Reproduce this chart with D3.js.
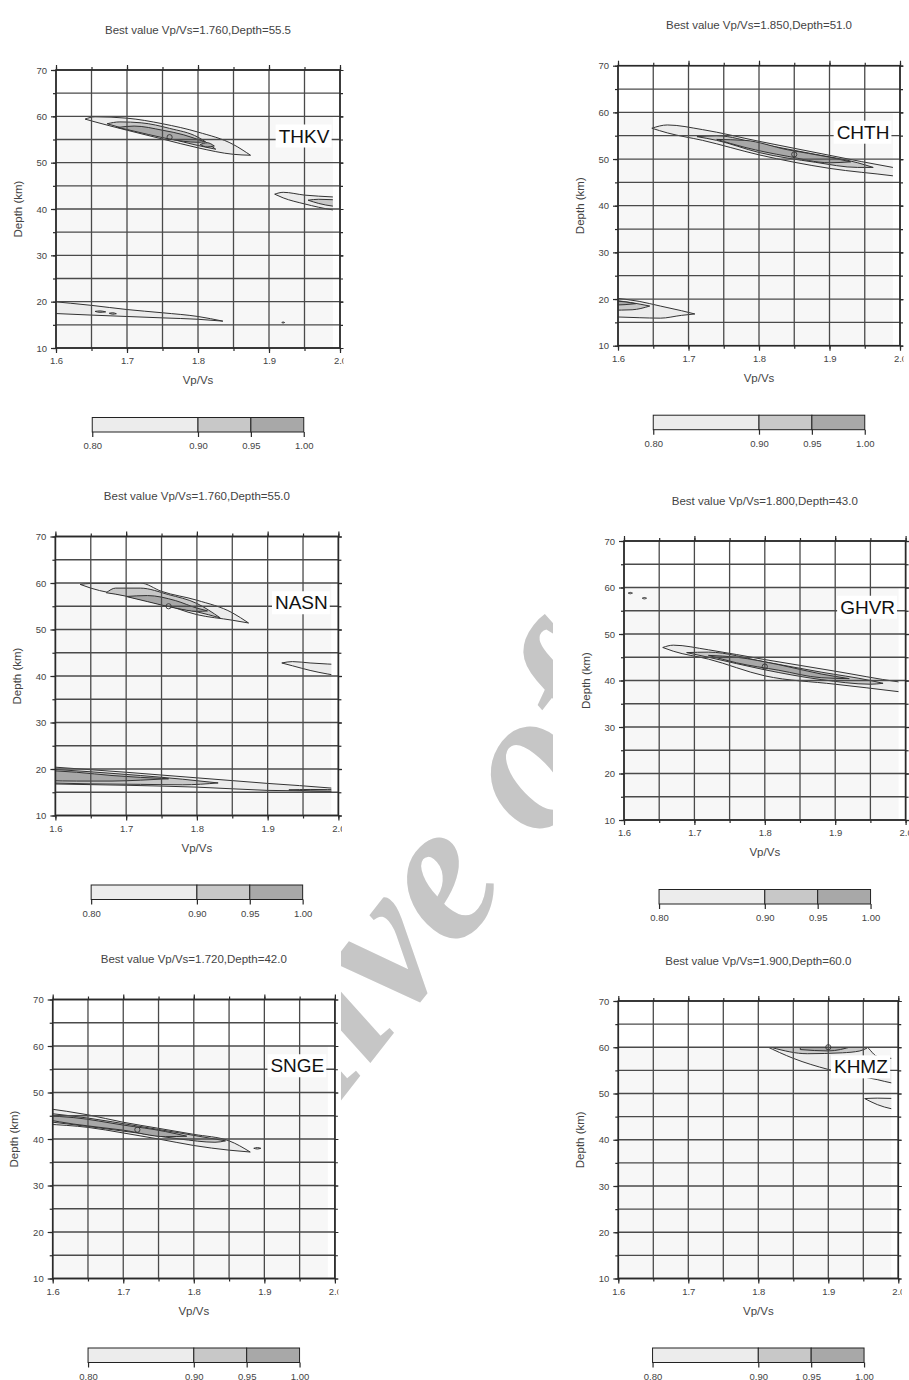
<!DOCTYPE html>
<html>
<head>
<meta charset="utf-8">
<script src="https://cdnjs.cloudflare.com/ajax/libs/d3/7.8.5/d3.min.js"></script>
<style>
  body { margin: 0; background: #fff; }
  text { font-family: "Liberation Sans", Arial, sans-serif; }
</style>
</head>
<body>
<div id="chart"></div>
<script>
// ---- data ----
var stations = ["THKV", "CHTH", "NASN", "GHVR", "SNGE", "KHMZ"];
var bestVpVs = [1.760, 1.850, 1.760, 1.800, 1.720, 1.900];
var bestDepth = [55.5, 51.0, 55.0, 43.0, 42.0, 60.0];
var xTicks = [1.6, 1.7, 1.8, 1.9, 2.0];
var yTicks = [10, 20, 30, 40, 50, 60, 70];
var levels = [0.80, 0.90, 0.95, 1.00];
var gridExtent = [1.6, 1.99, 10, 60];   // vp/vs min, max, depth min, max of the search grid

// contour bands: [vp/vs, upper depth, lower depth]
var thkv = [
  { level: 0.80, pts: [[1.641,59.4,59.4],[1.655,59.9,58.8],[1.70,59.6,57.0],[1.75,58.4,55.1],[1.80,56.6,53.2],[1.85,53.9,51.8],[1.874,51.6,51.6]] },
  { level: 0.90, pts: [[1.672,58.4,58.4],[1.69,58.8,57.6],[1.72,58.6,56.6],[1.76,57.4,55.2],[1.80,55.5,53.7],[1.825,52.9,52.9]] },
  { level: 0.95, pts: [[1.687,57.6,57.6],[1.71,57.9,56.8],[1.75,57.0,55.4],[1.78,56.0,54.6],[1.80,55.0,54.4],[1.81,54.5,54.5]] },
  { level: 0.95, pts: [[1.803,53.9,53.9],[1.813,54.3,53.4],[1.823,53.6,53.6]] },
  { level: 0.80, pts: [[1.908,43.2,43.2],[1.92,43.6,42.4],[1.95,43.0,41.1],[1.99,42.6,39.8],[2.01,42.4,39.4]] },
  { level: 0.90, pts: [[1.955,41.9,41.9],[1.97,42.1,41.2],[2.01,41.8,40.3]] },
  { level: 0.80, pts: [[1.59,20.1,17.5],[1.65,19.2,17.1],[1.70,18.3,16.8],[1.75,17.6,16.5],[1.80,16.8,16.2],[1.835,15.8,15.8]] },
  { level: 0.90, pts: [[1.655,17.9,17.9],[1.662,18.0,17.7],[1.67,17.8,17.8]] },
  { level: 0.90, pts: [[1.675,17.5,17.5],[1.68,17.6,17.3],[1.685,17.4,17.4]] },
  { level: 0.80, pts: [[1.918,15.5,15.5],[1.92,15.6,15.4],[1.922,15.5,15.5]] }
];
var chth = [
  { level: 0.80, pts: [[1.648,56.6,56.6],[1.67,57.3,55.6],[1.72,56.3,54.0],[1.80,53.8,50.9],[1.90,50.8,48.0],[1.99,48.2,46.4],[2.01,47.7,46.0]] },
  { level: 0.90, pts: [[1.712,54.8,54.8],[1.74,55.0,54.0],[1.80,53.3,51.4],[1.88,51.0,49.3],[1.94,49.2,48.2],[1.962,48.2,48.2]] },
  { level: 0.95, pts: [[1.74,54.2,54.2],[1.78,54.0,52.5],[1.84,52.0,50.6],[1.90,50.4,49.2],[1.93,49.4,49.4]] },
  { level: 0.80, pts: [[1.59,20.3,16.2],[1.63,19.5,16.0],[1.66,18.5,15.9],[1.69,17.5,16.5],[1.709,16.8,16.8]] },
  { level: 0.90, pts: [[1.59,19.8,17.6],[1.62,19.2,17.7],[1.645,18.5,18.5]] },
  { level: 0.95, pts: [[1.59,19.6,18.7],[1.61,19.4,18.8],[1.625,19.0,19.0]] }
];
var nasn = [
  { level: 0.80, pts: [[1.635,59.7,59.7],[1.65,59.9,58.9],[1.70,59.9,57.3],[1.72,60.0,56.8],[1.75,58.2,55.6],[1.80,56.3,53.2],[1.85,53.6,52.0],[1.873,51.4,51.4]] },
  { level: 0.90, pts: [[1.672,57.9,57.9],[1.685,58.9,57.6],[1.72,58.9,56.5],[1.76,57.5,55.0],[1.80,55.6,53.8],[1.833,52.5,52.5]] },
  { level: 0.95, pts: [[1.70,57.1,57.1],[1.73,57.3,56.0],[1.77,56.2,54.6],[1.80,54.6,53.9],[1.815,54.0,54.0]] },
  { level: 0.80, pts: [[1.92,42.8,42.8],[1.935,43.1,42.2],[1.96,42.8,41.2],[2.01,42.4,39.8]] },
  { level: 0.80, pts: [[1.59,20.5,16.8],[1.70,19.3,16.5],[1.80,18.1,16.1],[1.90,16.9,15.4],[1.99,15.9,15.2],[2.01,15.6,15.1]] },
  { level: 0.90, pts: [[1.59,20.0,17.0],[1.65,19.4,16.8],[1.72,18.6,16.7],[1.78,17.8,16.6],[1.83,17.0,17.0]] },
  { level: 0.90, pts: [[1.93,15.5,15.5],[1.96,15.6,15.3],[2.01,15.5,15.2]] },
  { level: 0.95, pts: [[1.59,19.7,17.5],[1.63,19.3,17.4],[1.68,18.6,17.4],[1.72,18.2,17.6],[1.76,17.9,17.9]] }
];
var ghvr = [
  { level: 0.80, pts: [[1.655,47.1,47.1],[1.67,47.6,46.3],[1.72,46.6,44.6],[1.80,44.5,41.0],[1.90,42.0,39.2],[1.99,39.7,37.6],[2.01,39.3,37.2]] },
  { level: 0.90, pts: [[1.689,46.0,46.0],[1.72,46.1,45.0],[1.80,44.0,42.3],[1.88,41.8,40.2],[1.95,40.0,39.2],[1.968,39.4,39.4]] },
  { level: 0.95, pts: [[1.72,45.4,45.4],[1.76,45.0,43.8],[1.82,43.4,42.2],[1.88,41.4,40.6],[1.92,40.4,40.4]] },
  { level: 0.80, pts: [[1.606,58.8,58.8],[1.609,58.95,58.65],[1.612,58.8,58.8]] },
  { level: 0.80, pts: [[1.626,57.7,57.7],[1.629,57.85,57.55],[1.632,57.7,57.7]] }
];
var snge = [
  { level: 0.80, pts: [[1.59,46.6,43.2],[1.65,45.2,42.5],[1.70,43.6,41.3],[1.75,42.3,40.0],[1.80,41.0,38.6],[1.85,39.6,37.6],[1.88,37.2,37.2]] },
  { level: 0.80, pts: [[1.885,38.0,38.0],[1.89,38.15,37.85],[1.895,38.0,38.0]] },
  { level: 0.90, pts: [[1.59,45.6,43.8],[1.65,44.5,42.7],[1.72,42.8,41.3],[1.78,41.3,40.0],[1.83,40.0,39.3],[1.845,39.6,39.6]] },
  { level: 0.95, pts: [[1.59,45.0,44.2],[1.63,44.6,43.2],[1.70,43.0,41.9],[1.76,41.6,40.5],[1.79,40.6,40.6]] }
];
var khmz = [
  { level: 0.80, pts: [[1.81,60.3,60.3],[1.85,60.5,57.6],[1.90,60.5,55.2],[1.95,60.5,53.6],[1.97,58.0,53.0],[1.99,57.6,52.3],[2.01,57.4,52.0]] },
  { level: 0.90, pts: [[1.82,60.5,59.9],[1.87,60.5,58.6],[1.92,60.5,58.8],[1.945,60.5,59.2],[1.955,59.8,59.8]] },
  { level: 0.95, pts: [[1.86,60.5,59.5],[1.90,60.5,59.2],[1.935,60.2,60.2]] },
  { level: 0.80, pts: [[1.952,48.9,48.9],[1.97,49.0,47.6],[2.01,48.8,46.2]] }
];
var contourSets = [thkv, chth, nasn, ghvr, snge, khmz];

// ---- layout: plot box of each panel in page pixels ----
var layout = [
  { x: 56,    y: 70,    w: 284,   h: 278 },
  { x: 618,   y: 65.7,  w: 282,   h: 280 },
  { x: 55.4,  y: 536.5, w: 283,   h: 279 },
  { x: 624,   y: 541,   w: 281.6, h: 279 },
  { x: 52.7,  y: 999.5, w: 282.2, h: 279 },
  { x: 618.3, y: 1001,  w: 280,   h: 277.5 }
];
var colLeft = [0, 553];

var fill = d3.scaleOrdinal().domain([0.80, 0.90, 0.95]).range(["#ececec", "#c8c8c8", "#a8a8a8"]);

var svg = d3.select("#chart").append("svg")
    .attr("width", 909)
    .attr("height", 1380);

// watermark behind the figure images
svg.append("text")
    .attr("transform", "translate(114,1391) rotate(-52)")
    .style("font-family", "'Liberation Serif', serif")
    .style("font-style", "italic")
    .style("font-weight", "bold")
    .style("font-size", "200px")
    .attr("fill", "#c6c6c6")
    .text("Archive of SID");

svg.append("rect").attr("x", 0).attr("y", 0).attr("width", 341).attr("height", 1380).attr("fill", "#fff");
svg.append("rect").attr("x", 553).attr("y", 0).attr("width", 356).attr("height", 1380).attr("fill", "#fff");

var defs = svg.append("defs");
var fmt1 = d3.format(".1f"), fmt3 = d3.format(".3f"), fmt2 = d3.format(".2f");

stations.forEach(function(name, i) {
    var pos = layout[i], W = pos.w, H = pos.h;
    var cx0 = colLeft[i % 2];

    // each figure image ends a few pixels right of its frame
    defs.append("clipPath").attr("id", "img" + i)
      .append("rect").attr("x", cx0).attr("y", 0)
        .attr("width", pos.x + W + 3.5 - cx0).attr("height", 1380);
    var outer = svg.append("g").attr("clip-path", "url(#img" + i + ")");
    var g = outer.append("g").attr("transform", "translate(" + pos.x + "," + pos.y + ")");

    var x = d3.scaleLinear().domain([1.6, 2.0]).range([0, W]);
    var y = d3.scaleLinear().domain([10, 70]).range([H, 0]);

    // search grid background
    var gx0 = x(gridExtent[0]), gx1 = x(gridExtent[1]), gy0 = y(gridExtent[3]), gy1 = y(gridExtent[2]);
    g.append("rect")
        .attr("x", gx0).attr("y", gy0)
        .attr("width", gx1 - gx0).attr("height", gy1 - gy0)
        .attr("fill", "#f7f7f7");

    defs.append("clipPath").attr("id", "data" + i)
      .append("rect")
        .attr("x", gx0).attr("y", gy0)
        .attr("width", gx1 - gx0).attr("height", gy1 - gy0);

    var area = d3.area()
        .x(function(d) { return x(d[0]); })
        .y0(function(d) { return y(d[2]); })
        .y1(function(d) { return y(d[1]); })
        .curve(d3.curveMonotoneX);

    var sets = contourSets[i].slice().sort(function(a, b) { return a.level - b.level; });
    g.append("g")
        .attr("clip-path", "url(#data" + i + ")")
        .selectAll("path")
        .data(sets)
        .enter().append("path")
            .attr("d", function(d) { return area(d.pts); })
            .attr("fill", function(d) { return fill(d.level); })
            .attr("stroke", "#333")
            .attr("stroke-width", 1);

    // grid every 0.05 and 5 km
    var gxs = d3.range(0, 9).map(function(k) { return 1.6 + k * 0.05; });
    var gys = d3.range(0, 13).map(function(k) { return 10 + k * 5; });
    g.append("g").selectAll("line").data(gxs).enter().append("line")
        .attr("x1", function(d) { return x(d); }).attr("x2", function(d) { return x(d); })
        .attr("y1", 0).attr("y2", H)
        .attr("stroke", "#4a4a4a").attr("stroke-width", 1.3);
    g.append("g").selectAll("line").data(gys).enter().append("line")
        .attr("y1", function(d) { return y(d); }).attr("y2", function(d) { return y(d); })
        .attr("x1", 0).attr("x2", W)
        .attr("stroke", "#4a4a4a").attr("stroke-width", 1.3);

    // best value
    g.append("circle")
        .attr("cx", x(bestVpVs[i])).attr("cy", y(bestDepth[i]))
        .attr("r", 2.6)
        .attr("fill", "none").attr("stroke", "#333").attr("stroke-width", 0.9);

    // frame
    g.append("rect").attr("width", W).attr("height", H)
        .attr("fill", "none").attr("stroke", "#2a2a2a").attr("stroke-width", 1.6);

    // axes: major ticks with labels, minor ticks
    function styleAxis(sel) {
        sel.select(".domain").remove();
        sel.selectAll("line").attr("stroke", "#2a2a2a").attr("stroke-width", 1.2);
        sel.selectAll("text").attr("fill", "#444").style("font-size", "9.5px")
            .style("font-family", "'Liberation Sans', Arial, sans-serif");
    }
    g.append("g").attr("transform", "translate(0," + H + ")")
        .call(d3.axisBottom(x).tickValues(xTicks).tickFormat(fmt1).tickSize(5).tickPadding(4.3))
        .call(styleAxis);
    g.append("g").attr("transform", "translate(0," + H + ")")
        .call(d3.axisBottom(x).tickValues(gxs).tickFormat("").tickSize(3))
        .call(styleAxis);
    g.append("g")
        .call(d3.axisTop(x).tickValues(xTicks).tickFormat("").tickSize(5))
        .call(styleAxis);
    g.append("g")
        .call(d3.axisTop(x).tickValues(gxs).tickFormat("").tickSize(3))
        .call(styleAxis);
    g.append("g")
        .call(d3.axisLeft(y).tickValues(yTicks).tickFormat(d3.format("d")).tickSize(5).tickPadding(4))
        .call(styleAxis);
    g.append("g")
        .call(d3.axisLeft(y).tickValues(gys).tickFormat("").tickSize(3))
        .call(styleAxis);
    g.append("g").attr("transform", "translate(" + W + ",0)")
        .call(d3.axisRight(y).tickValues(yTicks).tickFormat("").tickSize(5))
        .call(styleAxis);
    g.append("g").attr("transform", "translate(" + W + ",0)")
        .call(d3.axisRight(y).tickValues(gys).tickFormat("").tickSize(3))
        .call(styleAxis);

    // station label on a white box
    var lab = g.append("g");
    var txt = lab.append("text")
        .attr("x", x(1.985)).attr("y", y(55) + 3)
        .attr("text-anchor", "end")
        .style("font-size", "19px")
        .attr("fill", "#111")
        .text(name);
    var bb = txt.node().getBBox();
    lab.insert("rect", "text")
        .attr("x", bb.x - 3).attr("y", bb.y - 1)
        .attr("width", bb.width + 5).attr("height", bb.height + 2)
        .attr("fill", "#fff");

    // titles
    g.append("text")
        .attr("x", W / 2).attr("y", -36.5)
        .attr("text-anchor", "middle")
        .style("font-size", "11.5px")
        .attr("fill", "#444")
        .text("Best value Vp/Vs=" + fmt3(bestVpVs[i]) + ",Depth=" + fmt1(bestDepth[i]));
    g.append("text")
        .attr("x", W / 2).attr("y", H + 36)
        .attr("text-anchor", "middle")
        .style("font-size", "11.5px")
        .attr("fill", "#444")
        .text("Vp/Vs");
    g.append("text")
        .attr("transform", "translate(-34.5," + (H / 2) + ") rotate(-90)")
        .attr("text-anchor", "middle")
        .style("font-size", "11.5px")
        .attr("fill", "#444")
        .text("Depth (km)");

    // colour bar
    var cbW = 211.5, cbH = 14.5, cbTop = H + 69.5;
    var c = d3.scaleLinear().domain([0.8, 1.0]).range([W / 2 - cbW / 2, W / 2 + cbW / 2]);
    var cb = g.append("g");
    cb.selectAll("rect").data(d3.pairs(levels)).enter().append("rect")
        .attr("x", function(d) { return c(d[0]); })
        .attr("width", function(d) { return c(d[1]) - c(d[0]); })
        .attr("y", cbTop).attr("height", cbH)
        .attr("fill", function(d) { return fill(d[0]); })
        .attr("stroke", "#222").attr("stroke-width", 1);
    cb.append("g").attr("transform", "translate(0," + (cbTop + cbH) + ")")
        .call(d3.axisBottom(c).tickValues(levels).tickFormat(fmt2).tickSize(5).tickPadding(5.3))
        .call(styleAxis);
});
</script>
</body>
</html>
